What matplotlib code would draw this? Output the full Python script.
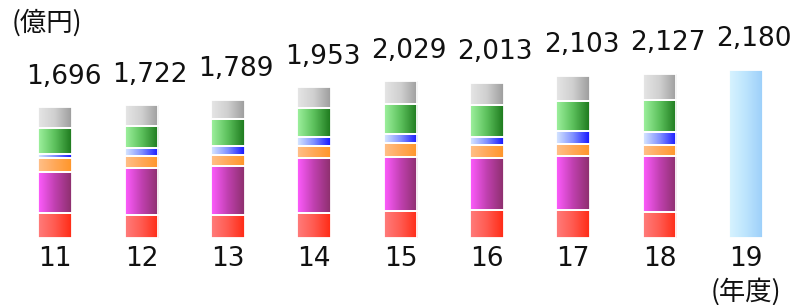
import numpy as np
import matplotlib.pyplot as plt
from matplotlib.colors import LinearSegmentedColormap

# 年度
years = ['11', '12', '13', '14', '15', '16', '17', '18', '19']
totals = [1696, 1722, 1789, 1953, 2029, 2013, 2103, 2127, 2180]

# 内訳 (億円), 下から順に
seg_red = [324, 300, 296, 320, 347, 359, 357, 341]
seg_magenta = [537, 609, 636, 720, 702, 678, 703, 725]
seg_orange = [175, 158, 147, 154, 182, 165, 163, 137]
seg_blue = [52, 94, 113, 111, 122, 105, 160, 165]
seg_green = [343, 291, 352, 385, 389, 413, 391, 425]
seg_gray = [265, 270, 245, 263, 287, 293, 329, 334]
forecast = [2180]  # 19年度 計画

series = [
    (seg_red, ['#ff7c7c', '#ff5a50', '#ff2a14']),
    (seg_magenta, ['#ff5cff', '#c040b0', '#8c2f6c']),
    (seg_orange, ['#ffc08a', '#ffa858', '#ff9628']),
    (seg_blue, ['#d8e8ff', '#8090ff', '#1414ff']),
    (seg_green, ['#9ff29f', '#5cc05c', '#1c781c']),
    (seg_gray, ['#e6e6e6', '#cfcfcf', '#9c9c9c']),
]
forecast_colors = ['#d8f4ff', '#bce4fd', '#9ccffa']

W, H = 794, 305
fig = plt.figure(figsize=(W / 100, H / 100), dpi=100)
ax = fig.add_axes([12 / W, 67 / H, 777 / W, 238 / H])

grad = np.linspace(0, 1, 256).reshape(1, -1)
x = np.arange(len(years))
bw = 0.39


def draw_bars(xs, vals, bottom, colors):
    cmap = LinearSegmentedColormap.from_list('g', colors)
    bars = ax.bar(xs, vals, bw, bottom=bottom, color='none',
                  edgecolor='white', linewidth=1.3, zorder=3)
    for rect in bars:
        x0, y0 = rect.get_x(), rect.get_y()
        im = ax.imshow(grad, cmap=cmap, aspect='auto', zorder=2,
                       extent=[x0, x0 + rect.get_width(), y0, y0 + rect.get_height()])
        im.set_clip_path(rect)


n = len(seg_red)
bottom = np.zeros(n)
for vals, colors in series:
    draw_bars(x[:n], vals, bottom, colors)
    bottom = bottom + np.array(vals)

draw_bars(x[n:], forecast, 0, forecast_colors)

# 合計ラベル
for i, t in enumerate(totals):
    ax.annotate(f'{t:,}', (x[i], t), xytext=(6, 22), textcoords='offset points',
                ha='center', va='center', fontsize=19, color='#111111')

ax.set_xlim(-0.5, len(years) - 0.5)
ax.set_ylim(0, 3084)
ax.set_xticks(x, years)
ax.set_yticks([])
ax.tick_params(axis='x', length=0, pad=6, labelsize=19, labelcolor='#111111')
for s in ax.spines.values():
    s.set_visible(False)

fig.text(47 / W, 1 - 23 / H, '(億円)', ha='center', va='center', fontsize=19,
         family=['Noto Sans CJK JP', 'DejaVu Sans'], color='#111111')
fig.text(746 / W, 1 - 292 / H, '(年度)', ha='center', va='center', fontsize=19,
         family=['Noto Sans CJK JP', 'DejaVu Sans'], color='#111111')

fig.savefig('out.png', dpi=100)
